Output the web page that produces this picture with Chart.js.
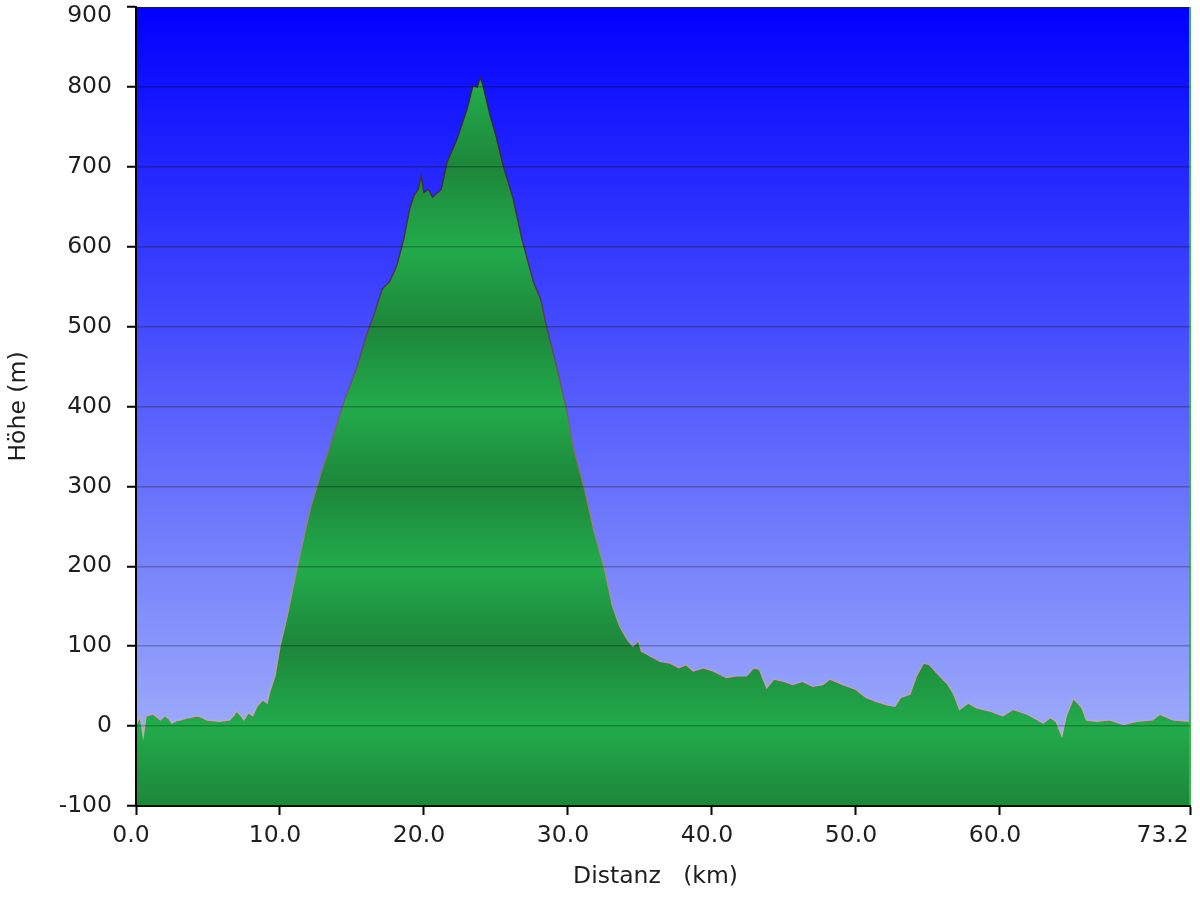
<!DOCTYPE html>
<html>
<head>
<meta charset="utf-8">
<script src="https://cdn.jsdelivr.net/npm/chart.js@4.4.0/dist/chart.umd.min.js"></script>
<style>
html,body{margin:0;padding:0;background:#ffffff;}
#wrap{width:1200px;height:900px;}
</style>
</head>
<body>
<div id="wrap"><canvas id="c" width="1200" height="900"></canvas></div>
<script>
// ---- data ----
const distKm = [
  0.0, 0.3, 0.5, 0.7, 1.2, 1.5, 1.7, 2.0, 2.3, 2.5, 2.8, 3.1, 3.5, 3.8, 4.2, 4.6, 4.9, 5.3, 5.8, 6.2,
  6.5, 6.8, 7.0, 7.3, 7.5, 7.8, 8.1, 8.4, 8.8, 9.1, 9.3, 9.65, 10.0, 10.5, 11.2, 12.1, 13.0, 13.4, 13.9, 14.5,
  15.3, 16.0, 16.5, 17.1, 17.6, 18.1, 18.6, 19.0, 19.3, 19.6, 19.8, 20.0, 20.3, 20.6, 21.2, 21.6, 22.3, 23.0, 23.4, 23.7,
  23.9, 24.1, 24.6, 25.0, 25.5, 26.2, 26.8, 27.6, 28.1, 28.5, 29.2, 29.9, 30.4, 31.1, 31.8, 32.5, 33.1, 33.6, 34.1, 34.5,
  34.9, 35.1, 35.7, 36.4, 37.1, 37.7, 38.2, 38.7, 39.4, 40.1, 41.0, 41.7, 42.4, 42.9, 43.3, 43.8, 44.3, 45.0, 45.6, 46.3,
  47.0, 47.7, 48.2, 49.1, 50.0, 50.7, 51.4, 52.1, 52.7, 53.1, 53.75, 54.2, 54.7, 55.1, 55.8, 56.4, 56.8, 57.2, 57.8, 58.4,
  59.3, 60.2, 60.9, 61.9, 63.0, 63.5, 63.9, 64.3, 64.6, 65.1, 65.7, 66.0, 66.7, 67.6, 68.6, 69.5, 70.6, 71.1, 72.0, 73.2
];
const elevM = [
  2, 12, -12, 13, 15, 11, 8, 13, 9, 4, 7, 8, 10, 11, 13, 11, 8, 7, 6, 7,
  8, 14, 19, 13, 8, 17, 13, 25, 33, 29, 44, 63, 100, 138, 200, 272, 326, 347, 376, 409,
  447, 489, 514, 547, 556, 576, 610, 647, 664, 672, 689, 668, 672, 662, 672, 706, 735, 773, 802, 800,
  812, 802, 764, 739, 702, 660, 610, 556, 535, 501, 451, 397, 347, 301, 245, 200, 150, 125, 109, 100,
  107, 94, 88, 81, 79, 73, 77, 69, 73, 69, 61, 63, 63, 73, 71, 48, 59, 56, 52, 56,
  50, 52, 59, 52, 46, 36, 31, 27, 25, 36, 40, 63, 79, 77, 63, 52, 40, 21, 29, 23,
  19, 13, 21, 15, 4, 11, 6, -12, 13, 35, 23, 8, 6, 8, 2, 6, 8, 15, 8, 6
];
const xTickValues = [0, 10, 20, 30, 40, 50, 60, 73.2];
const yMin = -100, yMax = 900, yStep = 100;
const xTitle = 'Distanz   (km)';
const yTitle = 'Höhe (m)';

// ---- styling ----
const FONT = "'DejaVu Sans', Verdana, sans-serif";
const FS = 23.5;
const TXT = '#1e1e1e';
const GREEN_BRIGHT = 'rgb(34,171,75)';
const GREEN_DARK = 'rgb(29,134,58)';

function greenFill(chart) {
  const a = chart.chartArea, y = chart.scales.y;
  if (!a || !y) return GREEN_BRIGHT;
  const g = chart.ctx.createLinearGradient(0, a.top, 0, a.bottom);
  const h = a.bottom - a.top;
  for (let v = yMax; v >= yMin; v -= yStep) {
    const p = Math.min(1, Math.max(0, (y.getPixelForValue(v) - a.top) / h));
    const odd = Math.abs(Math.round(v / yStep)) % 2 === 1;
    g.addColorStop(p, odd ? GREEN_DARK : GREEN_BRIGHT);
  }
  return g;
}
function borderGrad(chart) {
  const a = chart.chartArea;
  if (!a) return '#555';
  const g = chart.ctx.createLinearGradient(0, a.top, 0, a.bottom);
  g.addColorStop(0, 'rgba(40,35,35,1)');
  g.addColorStop(0.35, 'rgba(70,60,60,1)');
  g.addColorStop(0.6, 'rgba(140,120,120,1)');
  g.addColorStop(0.9, 'rgba(190,175,175,1)');
  g.addColorStop(1, 'rgba(200,185,185,1)');
  return g;
}

const bgPlugin = {
  id: 'plotBg',
  beforeDraw(chart) {
    const {ctx, chartArea: a} = chart;
    const g = ctx.createLinearGradient(0, a.top, 0, a.bottom);
    g.addColorStop(0, 'rgb(0,0,255)');
    g.addColorStop(1, 'rgb(172,188,250)');
    ctx.save();
    ctx.fillStyle = g;
    ctx.fillRect(a.left, a.top, a.right - a.left, a.bottom - a.top);
    ctx.restore();
  },
  afterDatasetsDraw(chart) {
    const {ctx, chartArea: a} = chart;
    ctx.save();
    ctx.strokeStyle = 'rgb(60,180,80)';
    ctx.lineWidth = 2;
    ctx.beginPath();
    ctx.moveTo(a.right, a.top);
    ctx.lineTo(a.right, a.bottom);
    ctx.stroke();
    ctx.restore();
  }
};

new Chart(document.getElementById('c'), {
  type: 'line',
  data: {
    datasets: [{
      data: distKm.map((x, i) => ({x: x, y: elevM[i]})),
      fill: 'start',
      backgroundColor: (ctx) => greenFill(ctx.chart),
      borderColor: (ctx) => borderGrad(ctx.chart),
      borderWidth: 1.5,
      pointRadius: 0,
      tension: 0
    }]
  },
  options: {
    responsive: false,
    devicePixelRatio: 1,
    animation: false,
    layout: {padding: {left: 0, right: 10, top: 7, bottom: 0}},
    plugins: {legend: {display: false}, tooltip: {enabled: false}},
    scales: {
      x: {
        type: 'linear',
        min: 0, max: 73.2,
        afterBuildTicks: (s) => { s.ticks = xTickValues.map(v => ({value: v})); },
        ticks: {
          autoSkip: false, maxRotation: 0, minRotation: 0,
          padding: 7, labelOffset: -5,
          color: TXT, font: {family: FONT, size: FS},
          callback: (v) => v === 73.2 ? '73.2\u00a0\u00a0\u00a0\u00a0\u00a0\u00a0' : Number(v).toFixed(1)
        },
        grid: {drawOnChartArea: false, drawTicks: true, tickLength: 9, tickColor: '#000', tickWidth: 2},
        border: {color: '#000', width: 2, z: 3},
        title: {display: true, text: xTitle + '\u00a0\u00a0', color: TXT, font: {family: FONT, size: FS}, padding: {top: 0, bottom: 9}},
        afterFit: (s) => { s.height = 94; s.paddingLeft = 0; s.paddingRight = 0; }
      },
      y: {
        min: yMin, max: yMax,
        ticks: {
          stepSize: yStep, padding: 15, color: TXT,
          font: (c) => (c.tick && c.tick.value === yMax)
            ? {family: FONT, size: FS, lineHeight: '18px'}
            : {family: FONT, size: FS},
          callback: (v) => v === yMax ? ['', String(v)] : String(v)
        },
        grid: {
          z: 1,
          color: (c) => (c.tick && (c.tick.value === yMax || c.tick.value === yMin)) ? 'rgba(0,0,0,0)' : 'rgba(0,0,0,0.25)',
          lineWidth: 1.5,
          tickLength: 9, tickColor: '#000', tickWidth: 2
        },
        border: {color: '#000', width: 2, z: 3},
        title: {display: true, text: yTitle, color: TXT, font: {family: FONT, size: FS}, padding: {top: 5, bottom: 0}},
        afterFit: (s) => { s.width = 136; s.paddingTop = 0; s.paddingBottom = 0; }
      }
    }
  },
  plugins: [bgPlugin]
});
</script>
</body>
</html>
